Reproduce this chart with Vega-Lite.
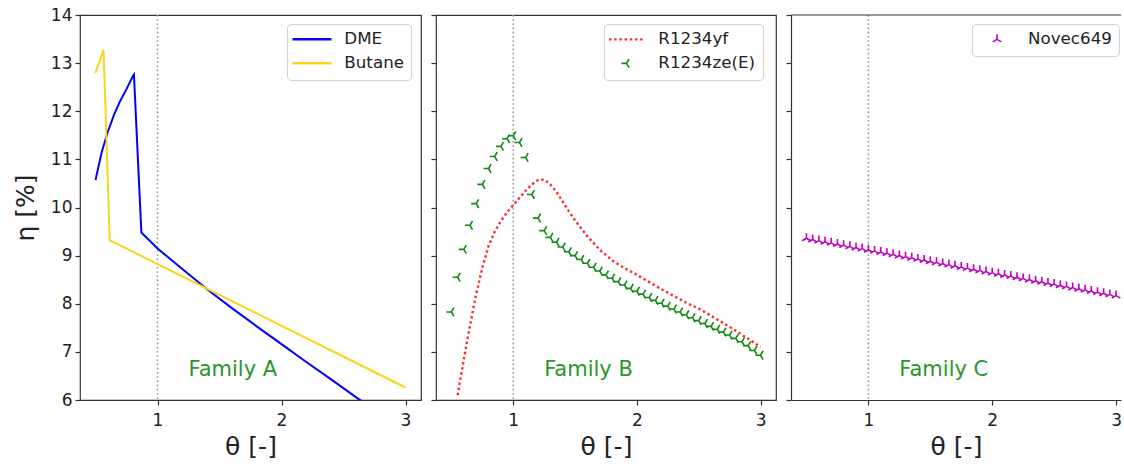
{
  "$schema": "https://vega.github.io/schema/vega-lite/v6.json",
  "padding": {"left": 12, "top": 5, "right": 0, "bottom": 0},
  "background": "white",
  "bounds": "flush",
  "spacing": 15,
  "resolve": {"scale": {"color": "independent"}, "legend": {"color": "independent"}},
  "datasets": {
    "A": [
      {"series": "DME", "theta": 0.5, "eta": 10.57},
      {"series": "DME", "theta": 0.55, "eta": 11.15},
      {"series": "DME", "theta": 0.6, "eta": 11.58},
      {"series": "DME", "theta": 0.65, "eta": 11.93},
      {"series": "DME", "theta": 0.7, "eta": 12.22},
      {"series": "DME", "theta": 0.75, "eta": 12.46},
      {"series": "DME", "theta": 0.8, "eta": 12.72},
      {"series": "DME", "theta": 0.81, "eta": 12.76},
      {"series": "DME", "theta": 0.87, "eta": 9.48},
      {"series": "DME", "theta": 1.0, "eta": 9.15},
      {"series": "DME", "theta": 1.2, "eta": 8.72},
      {"series": "DME", "theta": 1.4, "eta": 8.3},
      {"series": "DME", "theta": 1.6, "eta": 7.91},
      {"series": "DME", "theta": 1.8, "eta": 7.53},
      {"series": "DME", "theta": 2.0, "eta": 7.16},
      {"series": "DME", "theta": 2.2, "eta": 6.79},
      {"series": "DME", "theta": 2.4, "eta": 6.43},
      {"series": "DME", "theta": 2.6, "eta": 6.06},
      {"series": "DME", "theta": 2.8, "eta": 5.7},
      {"series": "DME", "theta": 3.0, "eta": 5.35},
      {"series": "Butane", "theta": 0.5, "eta": 12.8},
      {"series": "Butane", "theta": 0.565, "eta": 13.27},
      {"series": "Butane", "theta": 0.615, "eta": 9.32},
      {"series": "Butane", "theta": 3.0, "eta": 6.26}
    ],
    "Byf": [
      {"series": "R1234yf", "theta": 0.55, "eta": 6.1},
      {"series": "R1234yf", "theta": 0.6, "eta": 6.85},
      {"series": "R1234yf", "theta": 0.65, "eta": 7.55},
      {"series": "R1234yf", "theta": 0.7, "eta": 8.2},
      {"series": "R1234yf", "theta": 0.75, "eta": 8.75},
      {"series": "R1234yf", "theta": 0.8, "eta": 9.2},
      {"series": "R1234yf", "theta": 0.85, "eta": 9.5},
      {"series": "R1234yf", "theta": 0.9, "eta": 9.72},
      {"series": "R1234yf", "theta": 0.95, "eta": 9.9},
      {"series": "R1234yf", "theta": 1.0, "eta": 10.05},
      {"series": "R1234yf", "theta": 1.05, "eta": 10.2},
      {"series": "R1234yf", "theta": 1.1, "eta": 10.35},
      {"series": "R1234yf", "theta": 1.15, "eta": 10.48},
      {"series": "R1234yf", "theta": 1.2, "eta": 10.57},
      {"series": "R1234yf", "theta": 1.25, "eta": 10.58},
      {"series": "R1234yf", "theta": 1.3, "eta": 10.48},
      {"series": "R1234yf", "theta": 1.35, "eta": 10.32},
      {"series": "R1234yf", "theta": 1.4, "eta": 10.12},
      {"series": "R1234yf", "theta": 1.45, "eta": 9.92},
      {"series": "R1234yf", "theta": 1.5, "eta": 9.73},
      {"series": "R1234yf", "theta": 1.6, "eta": 9.4},
      {"series": "R1234yf", "theta": 1.7, "eta": 9.12},
      {"series": "R1234yf", "theta": 1.8, "eta": 8.9},
      {"series": "R1234yf", "theta": 1.9, "eta": 8.74},
      {"series": "R1234yf", "theta": 2.0, "eta": 8.6},
      {"series": "R1234yf", "theta": 2.2, "eta": 8.3},
      {"series": "R1234yf", "theta": 2.4, "eta": 8.02},
      {"series": "R1234yf", "theta": 2.5, "eta": 7.9},
      {"series": "R1234yf", "theta": 2.6, "eta": 7.75},
      {"series": "R1234yf", "theta": 2.8, "eta": 7.44},
      {"series": "R1234yf", "theta": 3.0, "eta": 7.1}
    ],
    "Bze": [
      {"series": "R1234ze(E)", "theta": 0.5, "eta": 7.83},
      {"series": "R1234ze(E)", "theta": 0.55, "eta": 8.55},
      {"series": "R1234ze(E)", "theta": 0.6, "eta": 9.13},
      {"series": "R1234ze(E)", "theta": 0.65, "eta": 9.63},
      {"series": "R1234ze(E)", "theta": 0.7, "eta": 10.08},
      {"series": "R1234ze(E)", "theta": 0.75, "eta": 10.48},
      {"series": "R1234ze(E)", "theta": 0.8, "eta": 10.81},
      {"series": "R1234ze(E)", "theta": 0.85, "eta": 11.06},
      {"series": "R1234ze(E)", "theta": 0.9, "eta": 11.27},
      {"series": "R1234ze(E)", "theta": 0.95, "eta": 11.43},
      {"series": "R1234ze(E)", "theta": 1.0, "eta": 11.49},
      {"series": "R1234ze(E)", "theta": 1.05, "eta": 11.35},
      {"series": "R1234ze(E)", "theta": 1.1, "eta": 11.04},
      {"series": "R1234ze(E)", "theta": 1.15, "eta": 10.27},
      {"series": "R1234ze(E)", "theta": 1.2, "eta": 9.78},
      {"series": "R1234ze(E)", "theta": 1.25, "eta": 9.52},
      {"series": "R1234ze(E)", "theta": 1.3, "eta": 9.38},
      {"series": "R1234ze(E)", "theta": 1.35, "eta": 9.28},
      {"series": "R1234ze(E)", "theta": 1.4, "eta": 9.18},
      {"series": "R1234ze(E)", "theta": 1.45, "eta": 9.08},
      {"series": "R1234ze(E)", "theta": 1.5, "eta": 9.0},
      {"series": "R1234ze(E)", "theta": 1.55, "eta": 8.92},
      {"series": "R1234ze(E)", "theta": 1.6, "eta": 8.84},
      {"series": "R1234ze(E)", "theta": 1.65, "eta": 8.76},
      {"series": "R1234ze(E)", "theta": 1.7, "eta": 8.68},
      {"series": "R1234ze(E)", "theta": 1.75, "eta": 8.6},
      {"series": "R1234ze(E)", "theta": 1.8, "eta": 8.53},
      {"series": "R1234ze(E)", "theta": 1.85, "eta": 8.46},
      {"series": "R1234ze(E)", "theta": 1.9, "eta": 8.39},
      {"series": "R1234ze(E)", "theta": 1.95, "eta": 8.32},
      {"series": "R1234ze(E)", "theta": 2.0, "eta": 8.26},
      {"series": "R1234ze(E)", "theta": 2.05, "eta": 8.2},
      {"series": "R1234ze(E)", "theta": 2.1, "eta": 8.13},
      {"series": "R1234ze(E)", "theta": 2.15, "eta": 8.07},
      {"series": "R1234ze(E)", "theta": 2.2, "eta": 8.01},
      {"series": "R1234ze(E)", "theta": 2.25, "eta": 7.95},
      {"series": "R1234ze(E)", "theta": 2.3, "eta": 7.89},
      {"series": "R1234ze(E)", "theta": 2.35, "eta": 7.83},
      {"series": "R1234ze(E)", "theta": 2.4, "eta": 7.77},
      {"series": "R1234ze(E)", "theta": 2.45, "eta": 7.71},
      {"series": "R1234ze(E)", "theta": 2.5, "eta": 7.65},
      {"series": "R1234ze(E)", "theta": 2.55, "eta": 7.59},
      {"series": "R1234ze(E)", "theta": 2.6, "eta": 7.53},
      {"series": "R1234ze(E)", "theta": 2.65, "eta": 7.47},
      {"series": "R1234ze(E)", "theta": 2.7, "eta": 7.41},
      {"series": "R1234ze(E)", "theta": 2.75, "eta": 7.35},
      {"series": "R1234ze(E)", "theta": 2.8, "eta": 7.28},
      {"series": "R1234ze(E)", "theta": 2.85, "eta": 7.21},
      {"series": "R1234ze(E)", "theta": 2.9, "eta": 7.13},
      {"series": "R1234ze(E)", "theta": 2.95, "eta": 7.03},
      {"series": "R1234ze(E)", "theta": 3.0, "eta": 6.93}
    ],
    "C": [
      {"series": "Novec649", "theta": 0.5, "eta": 9.36},
      {"series": "Novec649", "theta": 0.55, "eta": 9.336},
      {"series": "Novec649", "theta": 0.6, "eta": 9.312},
      {"series": "Novec649", "theta": 0.65, "eta": 9.289},
      {"series": "Novec649", "theta": 0.7, "eta": 9.265},
      {"series": "Novec649", "theta": 0.75, "eta": 9.241},
      {"series": "Novec649", "theta": 0.8, "eta": 9.217},
      {"series": "Novec649", "theta": 0.85, "eta": 9.193},
      {"series": "Novec649", "theta": 0.9, "eta": 9.17},
      {"series": "Novec649", "theta": 0.95, "eta": 9.146},
      {"series": "Novec649", "theta": 1.0, "eta": 9.122},
      {"series": "Novec649", "theta": 1.05, "eta": 9.098},
      {"series": "Novec649", "theta": 1.1, "eta": 9.074},
      {"series": "Novec649", "theta": 1.15, "eta": 9.051},
      {"series": "Novec649", "theta": 1.2, "eta": 9.027},
      {"series": "Novec649", "theta": 1.25, "eta": 9.003},
      {"series": "Novec649", "theta": 1.3, "eta": 8.979},
      {"series": "Novec649", "theta": 1.35, "eta": 8.955},
      {"series": "Novec649", "theta": 1.4, "eta": 8.932},
      {"series": "Novec649", "theta": 1.45, "eta": 8.908},
      {"series": "Novec649", "theta": 1.5, "eta": 8.884},
      {"series": "Novec649", "theta": 1.55, "eta": 8.86},
      {"series": "Novec649", "theta": 1.6, "eta": 8.836},
      {"series": "Novec649", "theta": 1.65, "eta": 8.813},
      {"series": "Novec649", "theta": 1.7, "eta": 8.789},
      {"series": "Novec649", "theta": 1.75, "eta": 8.765},
      {"series": "Novec649", "theta": 1.8, "eta": 8.741},
      {"series": "Novec649", "theta": 1.85, "eta": 8.717},
      {"series": "Novec649", "theta": 1.9, "eta": 8.694},
      {"series": "Novec649", "theta": 1.95, "eta": 8.67},
      {"series": "Novec649", "theta": 2.0, "eta": 8.646},
      {"series": "Novec649", "theta": 2.05, "eta": 8.622},
      {"series": "Novec649", "theta": 2.1, "eta": 8.598},
      {"series": "Novec649", "theta": 2.15, "eta": 8.575},
      {"series": "Novec649", "theta": 2.2, "eta": 8.551},
      {"series": "Novec649", "theta": 2.25, "eta": 8.527},
      {"series": "Novec649", "theta": 2.3, "eta": 8.503},
      {"series": "Novec649", "theta": 2.35, "eta": 8.479},
      {"series": "Novec649", "theta": 2.4, "eta": 8.456},
      {"series": "Novec649", "theta": 2.45, "eta": 8.432},
      {"series": "Novec649", "theta": 2.5, "eta": 8.408},
      {"series": "Novec649", "theta": 2.55, "eta": 8.384},
      {"series": "Novec649", "theta": 2.6, "eta": 8.36},
      {"series": "Novec649", "theta": 2.65, "eta": 8.337},
      {"series": "Novec649", "theta": 2.7, "eta": 8.313},
      {"series": "Novec649", "theta": 2.75, "eta": 8.289},
      {"series": "Novec649", "theta": 2.8, "eta": 8.265},
      {"series": "Novec649", "theta": 2.85, "eta": 8.241},
      {"series": "Novec649", "theta": 2.9, "eta": 8.218},
      {"series": "Novec649", "theta": 2.95, "eta": 8.194},
      {"series": "Novec649", "theta": 3.0, "eta": 8.17}
    ]
  },
  "hconcat": [
    {
      "width": 341,
      "height": 385,
      "layer": [
        {
          "data": {"values": [{"ref": 1}]},
          "mark": {"type": "rule", "color": "#999999", "strokeWidth": 1.6, "strokeDash": [1.6, 2.6]},
          "encoding": {
            "x": {"field": "ref", "type": "quantitative", "scale": {"domain": [0.375, 3.125], "nice": false, "zero": false}}
          }
        },
        {
          "data": {"name": "A"},
          "mark": {"type": "line", "strokeWidth": 2, "clip": true},
          "encoding": {
            "x": {"field": "theta", "type": "quantitative", "title": "θ [-]", "scale": {"domain": [0.375, 3.125], "nice": false, "zero": false}, "axis": {"values": [1, 2, 3], "format": "d"}},
            "y": {"field": "eta", "type": "quantitative", "title": "η [%]", "scale": {"domain": [6, 14], "nice": false, "zero": false}, "axis": {"values": [6, 7, 8, 9, 10, 11, 12, 13, 14], "format": "d"}},
            "color": {
              "field": "series", "type": "nominal",
              "scale": {"domain": ["DME", "Butane"], "range": ["#0000ff", "#ffd11a"]},
              "legend": {
                "orient": "none",
                "legendX": 207,
                "legendY": 9,
                "rowPadding": 6,
                "symbolOffset": 9.65,
                "labelOffset": 24,
                "encode": {
                  "symbols": {
                    "update": {
                      "shape": {"value": "stroke"},
                      "size": {"signal": "datum.value === 'DME' || datum.value === 'Butane' ? 1521 : 100"},
                      "strokeWidth": {"signal": "datum.value === 'DME' || datum.value === 'Butane' ? 2.5 : 1"},
                      "opacity": {"value": 1}
                    }
                  }
                }
              }
            }
          }
        },
        {
          "data": {"values": [{"theta": 1.25, "eta": 6.5, "label": "Family A"}]},
          "mark": {"type": "text", "align": "left", "baseline": "alphabetic", "fontSize": 21, "color": "#2a962a", "font": "DejaVu Sans"},
          "encoding": {
            "x": {"field": "theta", "type": "quantitative"},
            "y": {"field": "eta", "type": "quantitative"},
            "text": {"field": "label"}
          }
        }
      ]
    },
    {
      "width": 340,
      "height": 385,
      "layer": [
        {
          "data": {"values": [{"ref": 1}]},
          "mark": {"type": "rule", "color": "#999999", "strokeWidth": 1.6, "strokeDash": [1.6, 2.6]},
          "encoding": {
            "x": {"field": "ref", "type": "quantitative", "scale": {"domain": [0.375, 3.125], "nice": false, "zero": false}}
          }
        },
        {
          "data": {"name": "Byf"},
          "mark": {"type": "line", "strokeWidth": 2.4, "strokeDash": [2.4, 2.8], "clip": true},
          "encoding": {
            "x": {"field": "theta", "type": "quantitative", "title": "θ [-]", "scale": {"domain": [0.375, 3.125], "nice": false, "zero": false}, "axis": {"values": [1, 2, 3], "format": "d"}},
            "y": {"field": "eta", "type": "quantitative", "scale": {"domain": [6, 14], "nice": false, "zero": false}, "axis": {"values": [6, 7, 8, 9, 10, 11, 12, 13, 14], "labels": false, "title": null}},
            "color": {
              "field": "series", "type": "nominal",
              "scale": {"domain": ["R1234yf", "R1234ze(E)"], "range": ["#ff2a2a", "#108a10"]},
              "legend": {
                "orient": "none",
                "legendX": 168,
                "legendY": 9,
                "rowPadding": 6,
                "symbolOffset": 7.15,
                "labelOffset": 23.5,
                "encode": {
                  "symbols": {
                    "update": {
                      "shape": {"signal": "datum.value === 'R1234yf' ? 'stroke' : 'M0,0L-1,0M0,0L0.5,-0.866M0,0L0.5,0.866'"},
                      "size": {"signal": "datum.value === 'R1234yf' ? 1225 : 100"},
                      "strokeDash": {"signal": "datum.value === 'R1234yf' ? [2.4, 2.8] : [1, 0]"},
                      "stroke": {"signal": "datum.value === 'R1234yf' ? '#ff2a2a' : '#108a10'"},
                      "strokeWidth": {"signal": "datum.value === 'R1234yf' ? 2.4 : 1.6"},
                      "fill": {"value": "transparent"},
                      "opacity": {"value": 1}
                    }
                  }
                }
              }
            }
          }
        },
        {
          "data": {"name": "Bze"},
          "mark": {"type": "point", "shape": "M0,0L-1,0M0,0L0.5,-0.866M0,0L0.5,0.866", "filled": false, "size": 100, "strokeWidth": 1.6, "opacity": 1, "clip": true},
          "encoding": {
            "x": {"field": "theta", "type": "quantitative"},
            "y": {"field": "eta", "type": "quantitative"},
            "color": {"field": "series", "type": "nominal"}
          }
        },
        {
          "data": {"values": [{"theta": 1.25, "eta": 6.5, "label": "Family B"}]},
          "mark": {"type": "text", "align": "left", "baseline": "alphabetic", "fontSize": 21, "color": "#2a962a", "font": "DejaVu Sans"},
          "encoding": {
            "x": {"field": "theta", "type": "quantitative"},
            "y": {"field": "eta", "type": "quantitative"},
            "text": {"field": "label"}
          }
        }
      ]
    },
    {
      "width": 330,
      "height": 385,
      "view": {"stroke": null},
      "layer": [
        {
          "data": {"values": [{"ref": 1}]},
          "mark": {"type": "rule", "color": "#999999", "strokeWidth": 1.6, "strokeDash": [1.6, 2.6]},
          "encoding": {
            "x": {"field": "ref", "type": "quantitative", "scale": {"domain": [0.375, 3.04], "nice": false, "zero": false}}
          }
        },
        {
          "data": {"values": [{"top": 14}]},
          "mark": {"type": "rule", "color": "#333333", "strokeWidth": 1.2},
          "encoding": {
            "y": {"field": "top", "type": "quantitative", "scale": {"domain": [6, 14], "nice": false, "zero": false}}
          }
        },
        {
          "data": {"name": "C"},
          "mark": {"type": "point", "shape": "M0,0L0,-1M0,0L-0.866,0.5M0,0L0.866,0.5", "filled": false, "size": 100, "strokeWidth": 1.6, "opacity": 1, "clip": true},
          "encoding": {
            "x": {"field": "theta", "type": "quantitative", "title": "θ [-]", "scale": {"domain": [0.375, 3.04], "nice": false, "zero": false}, "axis": {"values": [1, 2, 3], "format": "d", "domain": true, "domainColor": "#333333", "domainWidth": 1.2}},
            "y": {"field": "eta", "type": "quantitative", "scale": {"domain": [6, 14], "nice": false, "zero": false}, "axis": {"values": [6, 7, 8, 9, 10, 11, 12, 13, 14], "labels": false, "title": null, "domain": true, "domainColor": "#333333", "domainWidth": 1.2}},
            "color": {
              "field": "series", "type": "nominal",
              "scale": {"domain": ["Novec649"], "range": ["#c000c0"]},
              "legend": {"orient": "none", "legendX": 181, "legendY": 9, "symbolType": "M0,0L0,-1M0,0L-0.866,0.5M0,0L0.866,0.5", "symbolSize": 100, "symbolStrokeWidth": 1.6, "symbolOffset": 9.65, "labelOffset": 22.65}
            }
          }
        },
        {
          "data": {"values": [{"theta": 1.25, "eta": 6.5, "label": "Family C"}]},
          "mark": {"type": "text", "align": "left", "baseline": "alphabetic", "fontSize": 21, "color": "#2a962a", "font": "DejaVu Sans"},
          "encoding": {
            "x": {"field": "theta", "type": "quantitative"},
            "y": {"field": "eta", "type": "quantitative"},
            "text": {"field": "label"}
          }
        }
      ]
    }
  ],
  "config": {
    "font": "DejaVu Sans",
    "view": {"stroke": "#333333", "strokeWidth": 1.2},
    "axis": {
      "grid": false,
      "domain": false,
      "tickColor": "#333333",
      "tickSize": 5,
      "tickWidth": 1.2,
      "labelFont": "DejaVu Sans",
      "labelFontSize": 17,
      "labelColor": "#222222",
      "titleFont": "DejaVu Sans",
      "titleFontSize": 25,
      "titleFontWeight": "normal",
      "titleColor": "#222222"
    },
    "axisX": {"labelPadding": 7, "titlePadding": 6},
    "axisY": {"labelPadding": 3, "titlePadding": 12},
    "legend": {
      "title": null,
      "padding": 7,
      "rowPadding": 9.3,
      "labelFont": "DejaVu Sans",
      "labelFontSize": 16.7,
      "labelColor": "#222222",
      "fillColor": "white",
      "strokeColor": "#d0d0d0",
      "cornerRadius": 4
    }
  }
}
